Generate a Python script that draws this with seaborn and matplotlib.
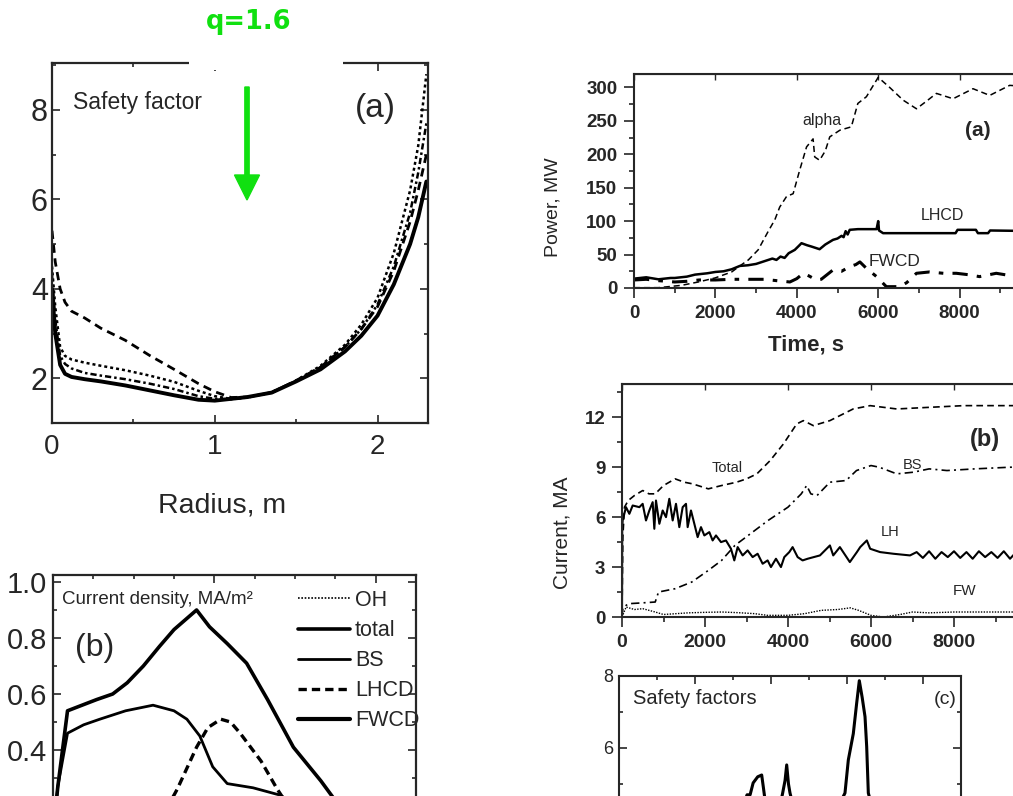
import pandas as pd
import seaborn as sns
import matplotlib.pyplot as plt
from matplotlib.patches import FancyArrow, Rectangle
from matplotlib.transforms import IdentityTransform
from matplotlib.ticker import MultipleLocator

# ---------------- data ----------------
# (a) left: safety factor profiles vs radius
radius = [0.0, 0.02, 0.05, 0.08, 0.12, 0.2, 0.3, 0.45, 0.6, 0.75, 0.9, 1.0,
          1.1, 1.2, 1.35, 1.5, 1.65, 1.8, 1.9, 2.0, 2.1, 2.2, 2.25, 2.3]
q_solid = [4.0, 3.0, 2.3, 2.1, 2.03, 1.98, 1.93, 1.84, 1.73, 1.62, 1.52, 1.50,
           1.54, 1.58, 1.68, 1.93, 2.2, 2.6, 2.95, 3.4, 4.1, 5.0, 5.6, 6.4]
q_dash = [5.3, 4.6, 4.0, 3.7, 3.5, 3.35, 3.12, 2.85, 2.51, 2.2, 1.88, 1.7,
          1.57, 1.58, 1.68, 1.95, 2.25, 2.7, 3.1, 3.6, 4.4, 5.5, 6.2, 7.0]
q_dot = [4.5, 3.6, 2.7, 2.5, 2.42, 2.35, 2.28, 2.18, 2.06, 1.92, 1.72, 1.6,
         1.54, 1.57, 1.68, 1.95, 2.28, 2.75, 3.2, 3.8, 4.8, 6.2, 7.2, 8.8]
q_dot2 = [4.3, 3.3, 2.5, 2.32, 2.22, 2.12, 2.06, 1.98, 1.88, 1.76, 1.6, 1.54,
          1.53, 1.57, 1.69, 1.94, 2.25, 2.7, 3.1, 3.65, 4.5, 5.7, 6.6, 7.7]

# (b) left: current density profiles
r_total = [0.0, 0.03, 0.09, 0.18, 0.27, 0.37, 0.46, 0.56, 0.66, 0.75, 0.83,
           0.89, 0.97, 1.08, 1.2, 1.33, 1.49, 1.66, 1.8, 2.0, 2.2]
j_total = [0.1, 0.27, 0.54, 0.56, 0.58, 0.60, 0.64, 0.70, 0.77, 0.83, 0.87,
           0.90, 0.84, 0.78, 0.71, 0.58, 0.41, 0.29, 0.18, 0.06, 0.0]
r_bs = [0.0, 0.03, 0.09, 0.19, 0.29, 0.45, 0.62, 0.75, 0.83, 0.91, 0.99,
        1.08, 1.24, 1.4, 1.6, 1.8, 2.0, 2.2]
j_bs = [0.1, 0.27, 0.46, 0.49, 0.51, 0.54, 0.56, 0.54, 0.51, 0.45, 0.34,
        0.28, 0.265, 0.24, 0.18, 0.11, 0.04, 0.0]
r_lh = [0.4, 0.6, 0.77, 0.89, 0.96, 1.04, 1.1, 1.16, 1.29, 1.39, 1.55, 1.7, 1.9]
j_lh = [0.0, 0.08, 0.26, 0.41, 0.48, 0.51, 0.5, 0.46, 0.36, 0.26, 0.12, 0.04, 0.0]
r_oh = [0.0, 0.3, 0.6, 0.9, 1.2, 1.5, 1.8, 2.1]
j_oh = [0.12, 0.11, 0.09, 0.07, 0.05, 0.03, 0.02, 0.01]
r_fw = [0.0, 0.1, 0.2, 0.3, 0.45, 0.6, 0.8, 1.0]
j_fw = [0.02, 0.15, 0.2, 0.17, 0.08, 0.03, 0.01, 0.0]
legend_labels = ['OH', 'total', 'BS', 'LHCD', 'FWCD']

# (a) right: power vs time
t_alpha = [0, 600, 1170, 1580, 1990, 2400, 2600, 2810, 3050, 3300, 3460, 3580,
           3750, 3910, 4070, 4240, 4400, 4440, 4560, 4700, 4810, 5060, 5340,
           5500, 5710, 5850, 6000, 6280, 6610, 6940, 7200, 7430, 7840, 8330,
           8740, 9230, 10000]
p_alpha = [0.5, 0.5, 4, 9, 15, 24, 33, 42, 57, 85, 102, 121, 137, 141, 176,
           211, 223, 196, 191, 205, 226, 236, 241, 276, 286, 300, 315, 300,
           281, 268, 280, 291, 283, 298, 288, 303, 300]
t_lhcd = [0, 300, 600, 900, 1000, 1300, 1500, 1800, 2000, 2200, 2400, 2600,
          2800, 3000, 3200, 3400, 3500, 3600, 3700, 3800, 3950, 4050, 4115,
          4250, 4360, 4560, 4700, 4890, 5000, 5100, 5150, 5200, 5250, 5300,
          5500, 5960, 6000, 6020, 6120, 7000, 7900, 7950, 8400, 8450, 8700,
          8750, 10000]
p_lhcd = [14, 16, 13, 15, 15, 17, 20, 22, 24, 25, 28, 33, 34, 36, 40, 44, 42,
          47, 45, 52, 57, 63, 67, 64, 62, 58, 65, 72, 74, 78, 76, 85, 80, 87,
          88, 88, 100, 86, 82, 82, 82, 87, 87, 82, 82, 86, 85]
t_fwcd = [0, 300, 600, 1000, 1300, 1600, 2000, 2400, 2800, 3200, 3500, 3830,
          4000, 4160, 4300, 4480, 4600, 4890, 5100, 5300, 5450, 5550, 5700,
          5960, 6200, 6530, 6700, 6940, 7260, 7600, 7920, 8200, 8490, 8900,
          9300, 10000]
p_fwcd = [12, 13, 11, 9, 10, 12, 12, 13, 13, 13, 11, 9, 14, 22, 18, 12, 13, 27,
          25, 32, 35, 39, 30, 17, 2, 2, 8, 22, 24, 22, 22, 20, 17, 22, 18, 20]

# (b) right: currents vs time
t_tot = [0, 20, 60, 150, 300, 500, 650, 800, 1000, 1280, 1500, 1700, 2080,
         2400, 2760, 3000, 3250, 3570, 3890, 4210, 4370, 4610, 5010, 5330,
         5570, 5980, 6620, 7420, 8230, 9350, 10000]
i_tot = [0, 4.8, 6.6, 7.0, 7.3, 7.6, 7.4, 7.4, 7.9, 8.3, 8.1, 8.0, 7.7, 7.9,
         8.1, 8.3, 8.6, 9.4, 10.4, 11.6, 11.8, 11.5, 11.8, 12.2, 12.5, 12.7,
         12.5, 12.6, 12.7, 12.7, 12.7]
t_bs = [0, 20, 40, 160, 500, 800, 880, 1280, 1680, 2080, 2400, 2720, 3200,
        3520, 4000, 4320, 4450, 4550, 4700, 5010, 5400, 5650, 6000, 6200, 6620,
        7020, 7400, 7830, 8500, 9350, 10000]
i_bs = [0, 0.5, 0.6, 0.8, 0.85, 0.9, 1.5, 1.7, 2.1, 2.8, 3.4, 4.3, 5.2, 5.8,
        6.6, 7.4, 7.9, 7.4, 7.3, 8.1, 8.2, 8.8, 9.1, 9.0, 8.6, 8.7, 8.9, 8.8,
        8.9, 9.0, 9.0]
t_lh = [0, 5, 16, 96, 177, 257, 418, 498, 578, 659, 739, 779, 819, 900, 980,
        1060, 1140, 1221, 1301, 1381, 1462, 1542, 1582, 1662, 1743, 1823, 1903,
        1984, 2104, 2184, 2265, 2385, 2505, 2626, 2706, 2787, 2907, 3027, 3148,
        3268, 3389, 3509, 3589, 3710, 3830, 3911, 4031, 4111, 4232, 4352, 4473,
        4770, 4930, 5010, 5090, 5250, 5330, 5490, 5660, 5740, 5900, 5980, 6220,
        6540, 6940, 7100, 7250, 7400, 7550, 7700, 7850, 8000, 8150, 8300, 8450,
        8600, 8750, 8900, 9050, 9200, 9350, 9500, 9650, 9800, 9950]
i_lh = [0, 5.4, 5.8, 6.6, 6.2, 6.7, 6.6, 6.8, 5.8, 6.4, 6.9, 5.3, 7.0, 5.6,
        6.4, 6.0, 7.1, 5.8, 6.8, 5.4, 6.6, 6.8, 5.4, 6.4, 5.6, 4.8, 5.4, 4.9,
        5.1, 4.6, 4.9, 4.5, 4.6, 4.1, 3.4, 4.2, 3.7, 4.0, 3.6, 3.8, 3.2, 3.4,
        3.0, 3.5, 3.0, 3.6, 3.9, 4.2, 3.6, 3.4, 3.5,
        3.7, 4.1, 4.3, 3.7, 4.2, 3.9, 3.3, 3.9, 4.2, 4.6, 4.1, 3.9,
        3.8, 3.7, 3.9, 3.55, 3.95, 3.5, 3.9, 3.6, 3.95, 3.55, 3.9, 3.5,
        3.95, 3.6, 3.9, 3.55, 3.95, 3.5, 3.9, 3.6, 3.95, 3.55]
t_fw = [0, 100, 300, 500, 800, 1000, 1300, 1600, 2000, 2400, 2800, 3200, 3500,
        4000, 4400, 4800, 5200, 5500, 5700, 6000, 6300, 6700, 7000, 7400, 8000,
        9000, 10000]
i_fw = [0.0, 0.6, 0.45, 0.5, 0.3, 0.15, 0.2, 0.25, 0.28, 0.3, 0.26, 0.2, 0.1,
        0.1, 0.2, 0.4, 0.45, 0.55, 0.4, 0.1, 0.0, 0.15, 0.3, 0.25, 0.3, 0.3, 0.3]

# (c) right: safety factors
t_sf = [0, 1000, 2000, 3000, 3370, 3450, 3530, 3650, 3755, 3800, 3900, 4200,
        4307, 4370, 4413, 4460, 4500, 4650, 5000, 5600, 5947, 6035, 6166, 6255,
        6324, 6400, 6474, 6518, 6561, 6750, 7500, 8500, 9000]
q_sf = [2.5, 2.6, 2.8, 3.6, 4.7, 4.7, 5.03, 5.2, 5.25, 4.9, 4.1, 4.2, 4.75,
        5.1, 5.53, 5.0, 4.75, 4.1, 3.6, 4.0, 4.75, 5.67, 6.4, 7.25, 7.87, 7.4,
        6.87, 6.04, 4.75, 4.0, 3.0, 2.8, 2.7]

# tick values
time_ticks = [0, 2000, 4000, 6000, 8000, 10000]
power_ticks = [0, 50, 100, 150, 200, 250, 300]
current_ticks = [0, 3, 6, 9, 12]

# ---------------- figure ----------------
sns.set_style("ticks")
plt.rcParams['font.family'] = ['Liberation Sans', 'DejaVu Sans']
NARROW = ['Liberation Sans', 'DejaVu Sans']
GREEN = '#10e010'

W, H = 1013, 796
fig = plt.figure(figsize=(W / 100, H / 100), dpi=100)


def box(l, t, r, b):
    return [l / W, 1 - b / H, (r - l) / W, (b - t) / H]


def ftext(x, y, s, **kw):
    fig.text(x / W, 1 - y / H, s, **kw)


def line(ax, x, y, **kw):
    sns.lineplot(x=x, y=y, ax=ax, color='black', estimator=None, sort=False, **kw)


def time_labels(ticks):
    # the 10000 label falls outside the picture
    return [str(v) if v < 10000 else '' for v in ticks]


# ---- left (a): safety factor ----
axA = fig.add_axes(box(52, 63, 428, 423))
line(axA, radius, q_dot, lw=1.8, linestyle=(0, (1.2, 1.2)))
line(axA, radius, q_dot2, lw=1.8, linestyle=(0, (2.5, 1.2, 1, 1.2)))
line(axA, radius, q_dash, lw=2.0, linestyle=(0, (3, 2)))
line(axA, radius, q_solid, lw=2.8)
axA.set_xlim(0, 2.31)
axA.set_ylim(1.0, 9.05)
axA.set_xticks([0, 1, 2], labels=['0', '1', '2'], fontsize=20, family=NARROW)
axA.set_yticks([2, 4, 6, 8], labels=['2', '4', '6', '8'], fontsize=22, family=NARROW)
axA.xaxis.set_minor_locator(MultipleLocator(0.5))
axA.yaxis.set_minor_locator(MultipleLocator(1))
axA.tick_params(which='both', direction='in', top=True, right=True, width=1.2)
axA.tick_params(which='major', length=6)
axA.tick_params(which='minor', length=3)
axA.tick_params(axis='x', pad=8)
axA.tick_params(axis='y', pad=3)
for sp in axA.spines.values():
    sp.set_linewidth(1.6)
ftext(222, 505, 'Radius, m', fontsize=20.5, family=NARROW, ha='center', va='center')
ftext(73, 102, 'Safety factor', fontsize=16.5, family=NARROW, ha='left', va='center')
ftext(375, 108, '(a)', fontsize=24, family=NARROW, ha='center', va='center')

# white gap in the top frame, green marker
fig.add_artist(Rectangle((189, H - 70), 154, 14, transform=IdentityTransform(),
                         facecolor='white', edgecolor='none', zorder=20))
fig.add_artist(FancyArrow(247, H - 87, 0, -113, width=4.3, head_width=25,
                          head_length=25, length_includes_head=True,
                          transform=IdentityTransform(), color=GREEN, zorder=21))
ftext(249, 22, 'q=1.6', fontsize=18.5, fontweight='bold', family='DejaVu Sans',
      color=GREEN, ha='center', va='center')

# ---- left (b): current density ----
axB = fig.add_axes(box(53, 575, 416, 862))
line(axB, r_oh, j_oh, lw=1.2, linestyle=(0, (1, 1)), label=legend_labels[0])
line(axB, r_total, j_total, lw=2.6, label=legend_labels[1])
line(axB, r_bs, j_bs, lw=2.0, label=legend_labels[2])
line(axB, r_lh, j_lh, lw=2.4, linestyle=(0, (2.5, 1.5)), label=legend_labels[3])
line(axB, r_fw, j_fw, lw=3.0, label=legend_labels[4])
axB.set_xlim(0, 2.25)
axB.set_ylim(0, 1.025)
yt = [0.4, 0.6, 0.8, 1.0]
axB.set_yticks(yt, labels=['%.1f' % v for v in yt], fontsize=21, family=NARROW)
axB.set_xticks([0, 1, 2])
axB.yaxis.set_minor_locator(MultipleLocator(0.1))
axB.xaxis.set_minor_locator(MultipleLocator(0.25))
axB.tick_params(which='both', direction='in', top=True, right=True, width=1.2,
                labelbottom=False)
axB.tick_params(which='major', length=6, pad=4)
axB.tick_params(which='minor', length=3)
for sp in axB.spines.values():
    sp.set_linewidth(1.6)
axB.legend(loc='upper left', bbox_to_anchor=(298 / W, 1 - 590 / H),
           bbox_transform=fig.transFigure, frameon=False, borderpad=0,
           borderaxespad=0, handlelength=2.4, handletextpad=0.25,
           labelspacing=0.42, prop={'family': NARROW, 'size': 15.5})
ftext(62, 600, 'Current density, MA/m²', fontsize=13.5, family=NARROW,
      ha='left', va='center')
ftext(95, 648, '(b)', fontsize=23, family=NARROW, ha='center', va='center')


def right_axes(ax):
    ax.tick_params(which='both', direction='out', top=False, right=False, width=1.2)
    ax.tick_params(which='major', length=7, pad=5)
    ax.tick_params(which='minor', length=3.5)
    sec = ax.secondary_xaxis('top')
    sec.tick_params(direction='in', labeltop=False, length=4, width=1)
    for sp in ax.spines.values():
        sp.set_linewidth(1.5)


# ---- right (a): power ----
axP = fig.add_axes(box(634, 74, 1041, 288))
line(axP, t_alpha, p_alpha, lw=1.1, linestyle=(0, (4, 2.5)))
line(axP, t_lhcd, p_lhcd, lw=1.8)
line(axP, t_fwcd, p_fwcd, lw=2.2, linestyle=(0, (5, 3, 1.5, 3)))
axP.set_xlim(0, 10000)
axP.set_ylim(0, 320)
axP.set_xticks(time_ticks, labels=time_labels(time_ticks), fontsize=13.5,
               fontweight='bold')
axP.set_yticks(power_ticks, labels=[str(v) for v in power_ticks], fontsize=13.5,
               fontweight='bold')
axP.xaxis.set_minor_locator(MultipleLocator(1000))
axP.yaxis.set_minor_locator(MultipleLocator(25))
right_axes(axP)
ftext(553, 207, 'Power, MW', fontsize=14, rotation=90, ha='center', va='center')
ftext(806, 345, 'Time, s', fontsize=16, fontweight='bold', ha='center', va='center')
ftext(822, 120, 'alpha', fontsize=11.5, ha='center', va='center')
ftext(978, 130, '(a)', fontsize=15, fontweight='bold', ha='center', va='center')
ftext(942, 215, 'LHCD', fontsize=11.5, ha='center', va='center')
ftext(895, 262, 'FWCD', fontsize=12.5, ha='center', va='center')

# ---- right (b): currents ----
axI = fig.add_axes(box(622, 384, 1037, 617))
line(axI, t_tot, i_tot, lw=1.2, linestyle=(0, (4, 2.5)))
line(axI, t_bs, i_bs, lw=1.2, linestyle=(0, (5, 2.5, 1.2, 2.5)))
line(axI, t_lh, i_lh, lw=1.5)
line(axI, t_fw, i_fw, lw=1.0, linestyle=(0, (1, 1)))
axI.set_xlim(0, 10000)
axI.set_ylim(0, 14)
axI.set_xticks(time_ticks, labels=time_labels(time_ticks), fontsize=14,
               fontweight='bold')
axI.set_yticks(current_ticks, labels=[str(v) for v in current_ticks],
               fontsize=13.5, fontweight='bold')
axI.xaxis.set_minor_locator(MultipleLocator(1000))
axI.yaxis.set_minor_locator(MultipleLocator(1.5))
right_axes(axI)
ftext(562, 533, 'Current, MA', fontsize=15, rotation=90, ha='center', va='center')
ftext(727, 468, 'Total', fontsize=10.5, ha='center', va='center')
ftext(912, 465, 'BS', fontsize=10.5, ha='center', va='center')
ftext(890, 532, 'LH', fontsize=10.5, ha='center', va='center')
ftext(965, 591, 'FW', fontsize=11, ha='center', va='center')
ftext(985, 440, '(b)', fontsize=17, fontweight='bold', ha='center', va='center')

# ---- right (c): safety factors ----
axC = fig.add_axes(box(619, 676, 961, 964))
line(axC, t_sf, q_sf, lw=2.2)
axC.set_xlim(0, 9000)
axC.set_ylim(0, 8)
axC.set_yticks([6, 8], labels=['6', '8'], fontsize=13)
axC.set_xticks([0, 2000, 4000, 6000, 8000])
axC.xaxis.set_minor_locator(MultipleLocator(1000))
axC.yaxis.set_minor_locator(MultipleLocator(1))
axC.tick_params(which='both', direction='in', top=True, right=True, width=1.2,
                labelbottom=False)
axC.tick_params(which='major', length=6, pad=4)
axC.tick_params(which='minor', length=3)
for sp in axC.spines.values():
    sp.set_linewidth(1.5)
ftext(633, 699, 'Safety factors', fontsize=14.5, ha='left', va='center')
ftext(945, 699, '(c)', fontsize=14, ha='center', va='center')

for ax in (axA, axB, axP, axI, axC):
    ax.set_xlabel('')
    ax.set_ylabel('')

fig.savefig('out.png', dpi=100)
